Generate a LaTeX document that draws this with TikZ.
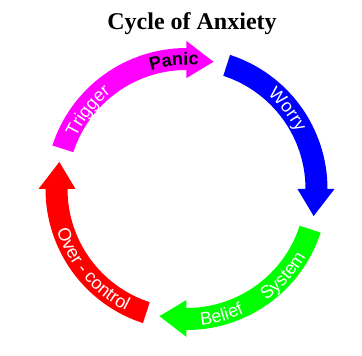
\documentclass[tikz,border=0pt]{standalone}
\usepackage{fontspec}
\setmainfont{Liberation Serif}
\setsansfont{Liberation Sans}
\usetikzlibrary{decorations.text}
\definecolor{cmag}{RGB}{255,0,255}
\definecolor{cblue}{RGB}{0,0,255}
\definecolor{cgreen}{RGB}{0,255,0}
\definecolor{cred}{RGB}{255,0,0}
\begin{document}
\begin{tikzpicture}[x=1pt,y=1pt,
  whitelabel/.style={decorate, decoration={text along path, text align=center, text color=white,
     text={|\sffamily\fontsize{18}{18}\selectfont|#1}}},
  blacklabel/.style={decorate, decoration={text along path, text align=center, text color=black,
     text={|\sffamily\bfseries\fontsize{18}{18}\selectfont|#1}}}]
\useasboundingbox (-186.5,-167) rectangle (175.5,189);
\node[anchor=base, font=\bfseries\fontsize{24}{24}\selectfont] (title) at (5.5,159) {Cycle of Anxiety};
\foreach \c/\a in {cmag/162, cblue/72, cgreen/-18, cred/-108} {
  \pgfmathsetmacro\b{\a-72}
  \pgfmathsetmacro\t{\a-84}
  \fill[\c] (\a:141) arc[start angle=\a, end angle=\b, radius=141] -- (\b:148) -- (\t:130) -- (\b:111) -- (\b:119) arc[start angle=\b, end angle=\a, radius=119] -- cycle;
}
\path[blacklabel={Panic}] (125.6:124) arc[start angle=125.6, end angle=65.6, radius=124];
\path[whitelabel={Trigger}] (171.6:122) arc[start angle=171.6, end angle=111.6, radius=122];
\path[whitelabel={Worry}] (68.2:124) arc[start angle=68.2, end angle=8.2, radius=124];
\path[whitelabel={Over - control}] (185.6:136) arc[start angle=185.6, end angle=255.6, radius=136];
\path[whitelabel={Belief}] (-94.5:137) arc[start angle=-94.5, end angle=-54.5, radius=137];
\path[whitelabel={System}] (-62:137) arc[start angle=-62, end angle=-22, radius=137];
\end{tikzpicture}
\end{document}
